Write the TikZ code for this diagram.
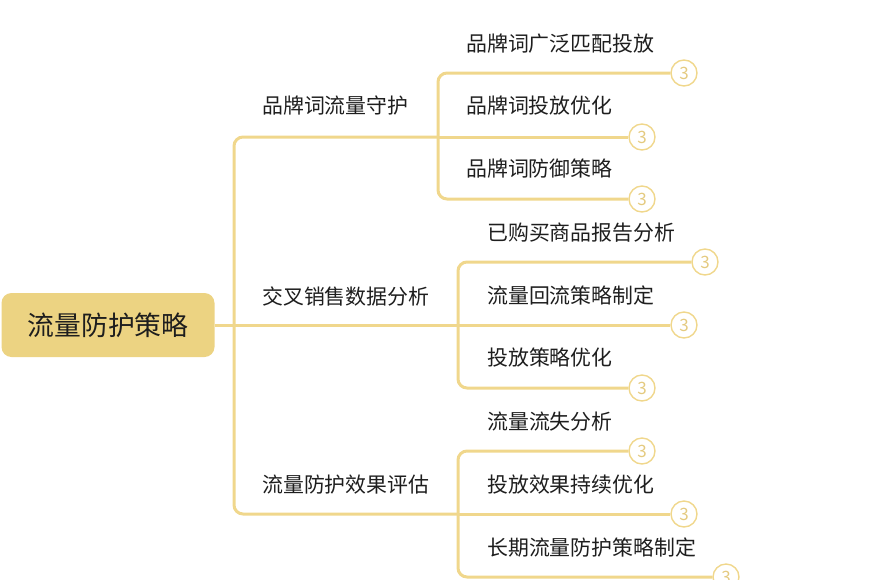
\documentclass[tikz,border=0pt]{standalone}
\usepackage{fontspec}
\setmainfont{Noto Sans CJK SC}
\definecolor{gold}{RGB}{240,215,140}
\definecolor{rootgold}{RGB}{236,211,130}
\definecolor{badgegold}{RGB}{228,202,128}
\definecolor{ink}{RGB}{30,30,30}

\begin{document}
\begin{tikzpicture}[x=1pt,y=-1pt,
    branch/.style={draw=gold,line width=3pt,rounded corners=9pt},
    rootbox/.style={fill=rootgold,rounded corners=10pt,minimum width=213pt,minimum height=64pt,
        font=\fontsize{26.8}{30}\selectfont,text=ink},
    topic/.style={anchor=west,inner sep=0pt,font=\fontsize{20.9}{24}\selectfont,text=ink},
    badge/.style={circle,draw=gold,line width=1.4pt,minimum size=26pt,inner sep=0pt,
        font=\fontsize{17}{18}\selectfont,text=badgegold}]
                    \useasboundingbox (0,0) rectangle (891,579);
                    \node[rootbox] (root) at (108,325){流量防护策略};

                    \node[topic] (brand) at (262,106){品牌词流量守护};
                    \node[topic] (cross) at (262,296){交叉销售数据分析};
                    \node[topic] (effect) at (262,485){流量防护效果评估};

                    \node[topic] (brandA) at (466,44){品牌词广泛匹配投放};
                    \node[topic] (brandB) at (466,106){品牌词投放优化};
                    \node[topic] (brandC) at (466,169){品牌词防御策略};
                    \node[topic] (crossA) at (487,233){已购买商品报告分析};
                    \node[topic] (crossB) at (487,296){流量回流策略制定};
                    \node[topic] (crossC) at (487,358){投放策略优化};
                    \node[topic] (effectA) at (487,422){流量流失分析};
                    \node[topic] (effectB) at (487,485){投放效果持续优化};
                    \node[topic] (effectC) at (487,548){长期流量防护策略制定};

                    \node[badge] (brandA3) at (684,73){3};
                    \node[badge] (brandB3) at (642,137){3};
                    \node[badge] (brandC3) at (642,199){3};
                    \node[badge] (crossA3) at (705,262){3};
                    \node[badge] (crossB3) at (684,325){3};
                    \node[badge] (crossC3) at (642,388){3};
                    \node[badge] (effectA3) at (642,451){3};
                    \node[badge] (effectB3) at (684,514){3};
                    \node[badge] (effectC3) at (726,577){3};

                    \coordinate (fork) at (234,325);
                    \coordinate (brandfork) at (438,137);
                    \coordinate (crossfork) at (458,325);
                    \coordinate (effectfork) at (458,514);

                    \draw[branch] (root.east) -- (fork);
                    \draw[branch] (fork) |- (brandfork);
                    \draw[branch] (fork) -- (crossfork);
                    \draw[branch] (fork) |- (effectfork);

                    \draw[branch] (brandfork) |- (brandA3.west);
                    \draw[branch] (brandfork) -- (brandB3.west);
                    \draw[branch] (brandfork) |- (brandC3.west);
                    \draw[branch] (crossfork) |- (crossA3.west);
                    \draw[branch] (crossfork) -- (crossB3.west);
                    \draw[branch] (crossfork) |- (crossC3.west);
                    \draw[branch] (effectfork) |- (effectA3.west);
                    \draw[branch] (effectfork) -- (effectB3.west);
                    \draw[branch] (effectfork) |- (effectC3.west);
                \end{tikzpicture}
\end{document}
